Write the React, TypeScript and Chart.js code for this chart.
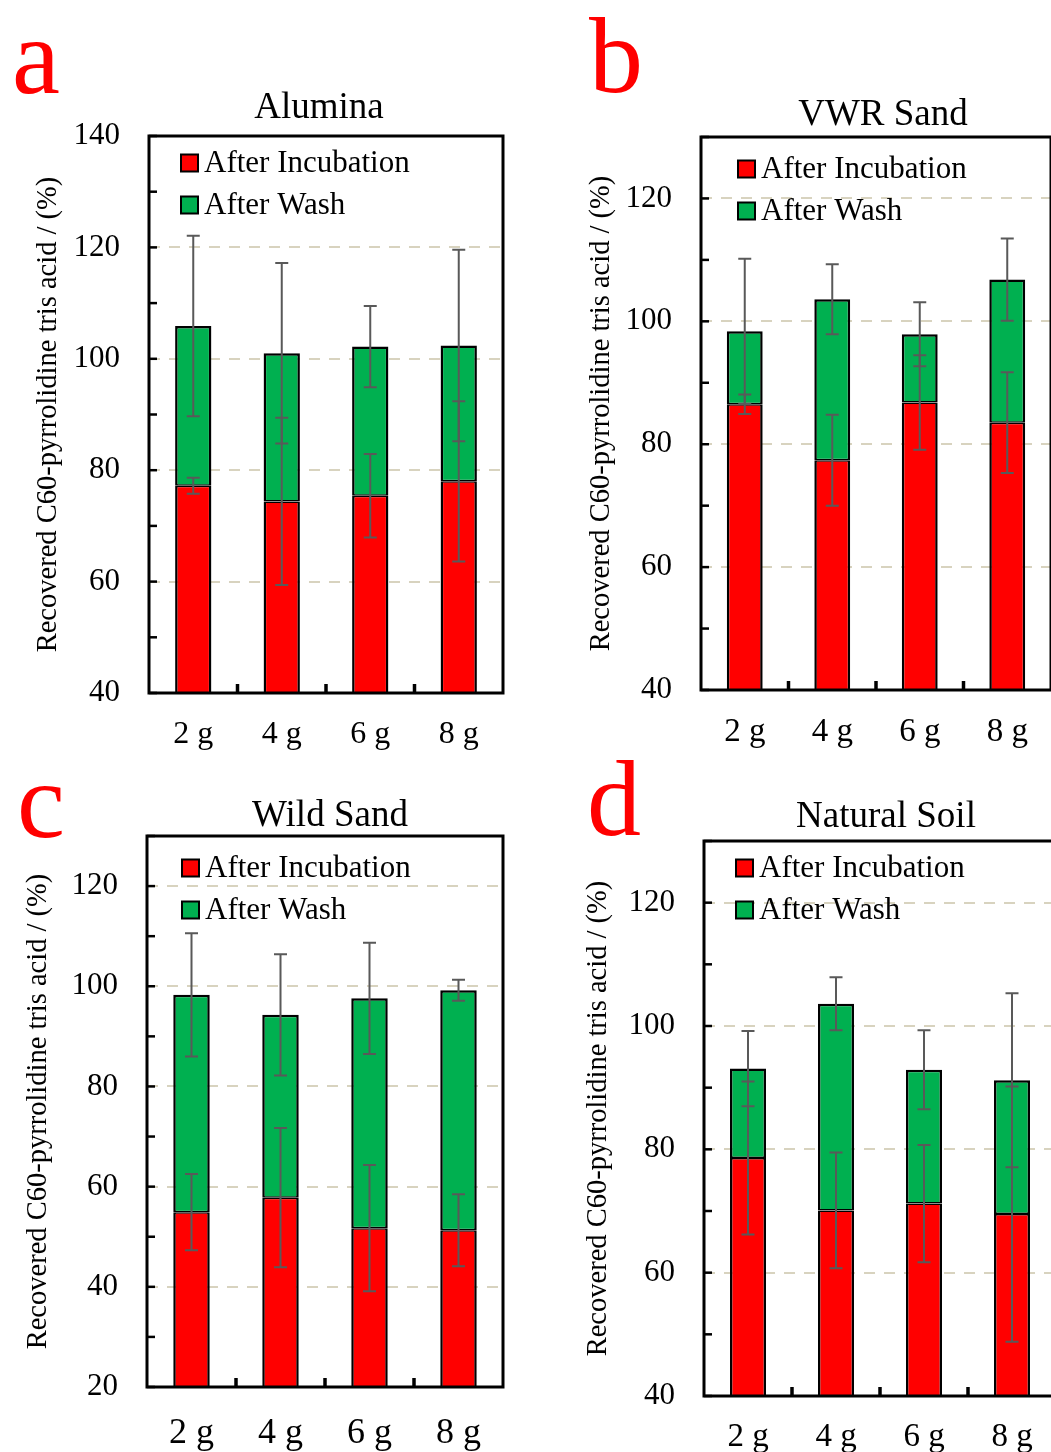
import React, { useEffect, useRef } from 'react';
import { Chart, registerables } from 'chart.js';

Chart.register(...registerables);

// ---------- data ----------
const categories = ['2 g', '4 g', '6 g', '8 g'];
const seriesLabels = ['After Incubation', 'After Wash'];
const axisTitle = 'Recovered C60-pyrrolidine tris acid / (%)';

// (a) Alumina
const aluminaIncubation = [77.2, 74.4, 75.4, 78.0];
const aluminaWash = [105.9, 101.0, 102.2, 102.4];
const aluminaIncubationErr = [1.45, 15.0, 7.5, 14.4];
const aluminaWashErr = [16.2, 16.2, 7.3, 17.2];

// (b) VWR Sand
const vwrIncubation = [86.5, 77.4, 86.8, 83.5];
const vwrWash = [98.4, 103.6, 97.9, 106.8];
const vwrIncubationErr = [1.6, 7.4, 7.7, 8.2];
const vwrWashErr = [11.8, 5.7, 5.2, 6.7];

// (c) Wild Sand
const wildIncubation = [54.9, 57.8, 51.7, 51.3];
const wildWash = [98.3, 94.3, 97.6, 99.2];
const wildIncubationErr = [7.6, 13.9, 12.6, 7.2];
const wildWashErr = [12.3, 12.1, 11.1, 2.1];

// (d) Natural Soil
const soilIncubation = [78.6, 70.1, 71.2, 69.5];
const soilWash = [93.1, 103.6, 92.9, 91.2];
const soilIncubationErr = [12.4, 9.4, 9.5, 20.7];
const soilWashErr = [6.1, 4.3, 6.4, 14.1];

// ---------- style ----------
const FONT = "'Liberation Serif', 'Times New Roman', serif";
const RED = '#ff0000';
const GREEN = '#00b050';
const GRID = '#d8d3bf';
const ERR = '#595959';

type PanelCfg = {
  letter: string;
  title: string;
  incubation: number[];
  wash: number[];
  incErr: number[];
  washErr: number[];
  yMin: number;
  yMax: number;
  left: number;
  top: number;
  width: number;
  height: number;
  plot: { l: number; t: number; r: number; b: number };
  letterPos: [number, number];
  titlePos: [number, number];
  legendPos: [number, number];
  axisTitlePad: number;
  xFont: number;
  xPad: number;
};

const panels: PanelCfg[] = [
  {
    letter: 'a', title: 'Alumina',
    incubation: aluminaIncubation, wash: aluminaWash, incErr: aluminaIncubationErr, washErr: aluminaWashErr,
    yMin: 40, yMax: 140,
    left: 0, top: 0, width: 525, height: 752,
    plot: { l: 149, t: 136, r: 503, b: 693 },
    letterPos: [12, 93], titlePos: [319, 118], legendPos: [32, 27],
    axisTitlePad: 31, xFont: 32, xPad: 22,
  },
  {
    letter: 'b', title: 'VWR Sand',
    incubation: vwrIncubation, wash: vwrWash, incErr: vwrIncubationErr, washErr: vwrWashErr,
    yMin: 40, yMax: 130,
    left: 525, top: 0, width: 540, height: 752,
    plot: { l: 176, t: 137, r: 526, b: 690 },
    letterPos: [64, 92], titlePos: [358, 125], legendPos: [37, 32],
    axisTitlePad: 59, xFont: 33, xPad: 23,
  },
  {
    letter: 'c', title: 'Wild Sand',
    incubation: wildIncubation, wash: wildWash, incErr: wildIncubationErr, washErr: wildWashErr,
    yMin: 20, yMax: 130,
    left: 0, top: 752, width: 525, height: 700,
    plot: { l: 147, t: 84, r: 503, b: 635 },
    letterPos: [17, 85], titlePos: [330, 74], legendPos: [35, 32],
    axisTitlePad: 21, xFont: 36, xPad: 25,
  },
  {
    letter: 'd', title: 'Natural Soil',
    incubation: soilIncubation, wash: soilWash, incErr: soilIncubationErr, washErr: soilWashErr,
    yMin: 40, yMax: 130,
    left: 525, top: 752, width: 540, height: 700,
    plot: { l: 179, t: 89, r: 531, b: 644 },
    letterPos: [62, 83], titlePos: [361, 75], legendPos: [32, 27],
    axisTitlePad: 56, xFont: 33, xPad: 22,
  },
];

function makeDecorPlugin(cfg: PanelCfg) {
  return {
    id: 'panelDecor' + cfg.letter,
    afterDatasetsDraw(chart: any) {
      const ctx = chart.ctx;
      const y = chart.scales.y;
      const metas = [chart.getDatasetMeta(0), chart.getDatasetMeta(1)];
      const tops = [cfg.incubation, cfg.wash];
      const errs = [cfg.incErr, cfg.washErr];
      ctx.save();
      ctx.strokeStyle = ERR;
      ctx.lineWidth = 2;
      const cap = 6.5;
      for (let s = 0; s < 2; s++) {
        metas[s].data.forEach((el: any, i: number) => {
          const x = el.x;
          const yHi = y.getPixelForValue(tops[s][i] + errs[s][i]);
          const yLo = y.getPixelForValue(tops[s][i] - errs[s][i]);
          ctx.beginPath();
          ctx.moveTo(x, yHi);
          ctx.lineTo(x, yLo);
          ctx.moveTo(x - cap, yHi);
          ctx.lineTo(x + cap, yHi);
          ctx.moveTo(x - cap, yLo);
          ctx.lineTo(x + cap, yLo);
          ctx.stroke();
        });
      }
      ctx.restore();
    },
    afterDraw(chart: any) {
      const ctx = chart.ctx;
      const area = chart.chartArea;
      const xs = chart.scales.x;
      const ys = chart.scales.y;
      ctx.save();
      // inward y ticks
      ctx.strokeStyle = '#000';
      ctx.lineWidth = 2.5;
      ys.ticks.forEach((t: any) => {
        const py = ys.getPixelForValue(t.value);
        ctx.beginPath();
        ctx.moveTo(area.left, py);
        ctx.lineTo(area.left + 8, py);
        ctx.stroke();
      });
      // inward x ticks between categories
      ctx.lineWidth = 3.5;
      for (let i = 0; i < categories.length - 1; i++) {
        const px = (xs.getPixelForTick(i) + xs.getPixelForTick(i + 1)) / 2;
        ctx.beginPath();
        ctx.moveTo(px, area.bottom);
        ctx.lineTo(px, area.bottom - 9);
        ctx.stroke();
      }
      // frame
      ctx.lineWidth = 3;
      ctx.strokeRect(area.left, area.top, area.right - area.left, area.bottom - area.top);

      // legend
      const colors = [RED, GREEN];
      ctx.font = `31px ${FONT}`;
      ctx.textBaseline = 'middle';
      ctx.textAlign = 'left';
      chart.data.datasets.forEach((ds: any, i: number) => {
        const bx = area.left + cfg.legendPos[0];
        const cy = area.top + cfg.legendPos[1] + i * 42;
        const size = 17;
        ctx.fillStyle = colors[i];
        ctx.fillRect(bx, cy - size / 2, size, size);
        ctx.lineWidth = 2;
        ctx.strokeStyle = '#000';
        ctx.strokeRect(bx, cy - size / 2, size, size);
        ctx.fillStyle = '#000';
        ctx.fillText(ds.label, bx + size + 6, cy + 1);
      });

      // panel letter
      ctx.textBaseline = 'alphabetic';
      ctx.fillStyle = RED;
      ctx.font = `108px ${FONT}`;
      ctx.textAlign = 'left';
      ctx.fillText(cfg.letter, cfg.letterPos[0], cfg.letterPos[1]);

      // panel title
      ctx.fillStyle = '#000';
      ctx.font = `37px ${FONT}`;
      ctx.textAlign = 'center';
      ctx.fillText(cfg.title, cfg.titlePos[0], cfg.titlePos[1]);
      ctx.restore();
    },
  };
}

function Panel({ cfg }: { cfg: PanelCfg }) {
  const ref = useRef<HTMLCanvasElement>(null);
  useEffect(() => {
    const canvas = ref.current;
    if (!canvas) return;
    const washSegment = cfg.wash.map((w, i) => +(w - cfg.incubation[i]).toFixed(2));
    const chart = new Chart(canvas, {
      type: 'bar',
      data: {
        labels: categories,
        datasets: [
          {
            label: seriesLabels[0],
            data: cfg.incubation,
            backgroundColor: RED,
            borderColor: '#000',
            borderWidth: { top: 1.5, left: 2.5, right: 2.5, bottom: 2.5 },
            borderSkipped: false,
            inflateAmount: 0,
            barPercentage: 0.41,
            categoryPercentage: 1,
          },
          {
            label: seriesLabels[1],
            data: washSegment,
            backgroundColor: GREEN,
            borderColor: '#000',
            borderWidth: { top: 2.5, left: 2.5, right: 2.5, bottom: 1.5 },
            borderSkipped: false,
            inflateAmount: 0,
            barPercentage: 0.41,
            categoryPercentage: 1,
          },
        ],
      },
      options: {
        responsive: false,
        animation: false,
        devicePixelRatio: 1,
        layout: {
          padding: { left: 0, top: cfg.plot.t, right: cfg.width - cfg.plot.r, bottom: 0 },
        },
        plugins: {
          legend: { display: false },
          title: { display: false },
          tooltip: { enabled: false },
        },
        scales: {
          x: {
            stacked: true,
            offset: true,
            grid: { display: false, drawTicks: false },
            border: { display: false },
            ticks: {
              color: '#000',
              font: { family: FONT, size: cfg.xFont },
              padding: cfg.xPad,
              maxRotation: 0,
              autoSkip: false,
            },
            afterFit: (s: any) => {
              s.height = cfg.height - cfg.plot.b;
            },
          },
          y: {
            stacked: true,
            min: cfg.yMin,
            max: cfg.yMax,
            grid: {
              drawTicks: false,
              lineWidth: 2,
              color: (c: any) => {
                const v = c.tick ? c.tick.value : NaN;
                return v % 20 === 0 && v > cfg.yMin && v < cfg.yMax ? GRID : 'rgba(0,0,0,0)';
              },
            },
            border: { display: false, dash: [11, 9] },
            ticks: {
              stepSize: 10,
              color: '#000',
              font: { family: FONT, size: 31 },
              padding: 29,
              callback: (v: any) => (Number(v) % 20 === 0 ? String(v) : ''),
            },
            title: {
              display: true,
              text: axisTitle,
              color: '#000',
              font: { family: FONT, size: 28.5 },
              padding: { top: cfg.axisTitlePad, bottom: 0 },
            },
            afterFit: (s: any) => {
              s.width = cfg.plot.l;
            },
          },
        },
      },
      plugins: [makeDecorPlugin(cfg)],
    } as any);
    return () => chart.destroy();
  }, [cfg]);
  return (
    <canvas
      ref={ref}
      width={cfg.width}
      height={cfg.height}
      style={{ position: 'absolute', left: cfg.left, top: cfg.top, width: cfg.width, height: cfg.height }}
    />
  );
}

export default function App() {
  return (
    <div
      style={{
        position: 'absolute',
        left: 0,
        top: 0,
        width: 1051,
        height: 1452,
        overflow: 'hidden',
        background: '#fff',
      }}
    >
      {panels.map((p) => (
        <Panel key={p.letter} cfg={p} />
      ))}
    </div>
  );
}
